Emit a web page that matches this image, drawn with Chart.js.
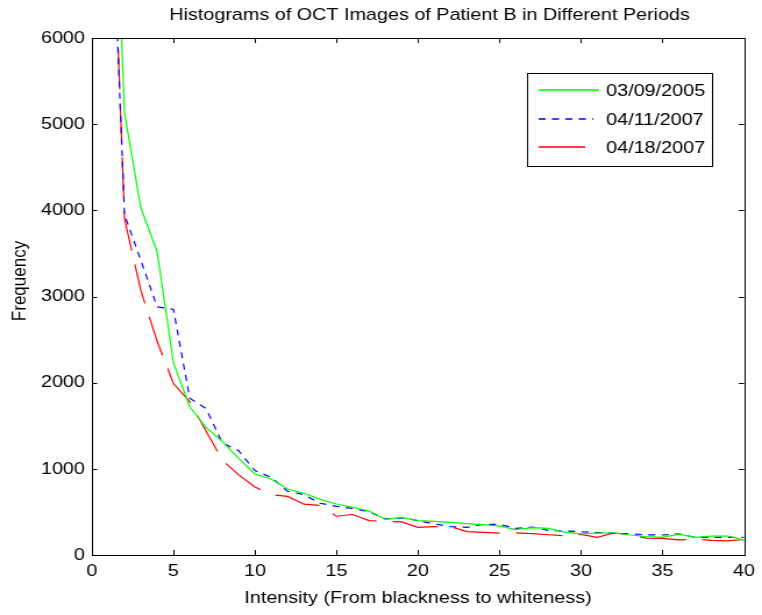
<!DOCTYPE html>
<html>
<head>
<meta charset="utf-8">
<script src="https://cdn.jsdelivr.net/npm/chart.js@4.4.1/dist/chart.umd.min.js"></script>
<style>
  html, body { margin: 0; padding: 0; background: #ffffff; overflow: hidden; }
  #wrap { width: 762px; height: 615px; }
  /* the reference figure is horizontally stretched; reproduce that by stretching the canvas */
  #c { width: 762px !important; height: 615px !important; display: block; }
</style>
</head>
<body>
<div id="wrap"><canvas id="c" width="655" height="615"></canvas></div>
<script>
// ---- data ----
const chartTitle = "Histograms of OCT Images of Patient B in Different Periods";
const xAxisTitle = "Intensity (From blackness to whiteness)";
const yAxisTitle = "Frequency";
const seriesLabels = ["03/09/2005", "04/11/2007", "04/18/2007"];
const seriesColors = ["#00ff00", "#0000ff", "#ff0000"];

const intensity = [1, 2, 3, 4, 5, 6, 7, 8, 9, 10,
                   11, 12, 13, 14, 15, 16, 17, 18, 19, 20,
                   21, 22, 23, 24, 25, 26, 27, 28, 29, 30,
                   31, 32, 33, 34, 35, 36, 37, 38, 39, 40];

const freq2005 = [10000, 5130, 4030, 3520, 2230, 1720, 1480, 1315, 1122, 940,
                  882, 766, 716, 646, 592, 553, 510, 414, 437, 400,
                  390, 378, 365, 352, 335, 295, 318, 308, 265, 245,
                  255, 258, 232, 215, 205, 242, 205, 218, 220, 172];

const freq0411 = [8700, 3950, 3420, 2880, 2850, 1820, 1700, 1300, 1210, 980,
                  900, 740, 700, 600, 565, 540, 500, 420, 430, 400,
                  360, 330, 320, 355, 355, 310, 325, 285, 280, 270,
                  260, 250, 245, 235, 232, 244, 205, 205, 205, 205];

const freq0418 = [9000, 3900, 3070, 2480, 1990, 1780, 1440, 1100, 930, 790,
                  700, 680, 590, 575, 450, 470, 400, 390, 385, 320,
                  330, 330, 272, 262, 255, 258, 248, 235, 222, 240,
                  205, 255, 240, 195, 192, 175, 185, 170, 165, 180];

const xTicks = [0, 5, 10, 15, 20, 25, 30, 35, 40];
const yTicks = [0, 1000, 2000, 3000, 4000, 5000, 6000];

// ---- helpers ----
const FONT = "'Liberation Sans', Arial, Helvetica, sans-serif";
const toPoints = (ys) => intensity.map((x, i) => ({ x: x, y: ys[i] }));

const frameAndTicks = {
  id: 'frameAndTicks',
  afterDatasetsDraw(chart) {
    const { ctx, chartArea: a, scales } = chart;
    ctx.save();
    ctx.strokeStyle = '#000';
    ctx.lineWidth = 1;
    ctx.beginPath();
    xTicks.forEach(v => {
      const px = Math.round(scales.x.getPixelForValue(v)) + 0.5;
      ctx.moveTo(px, a.bottom); ctx.lineTo(px, a.bottom - 5);
      ctx.moveTo(px, a.top); ctx.lineTo(px, a.top + 5);
    });
    yTicks.forEach(v => {
      const py = Math.round(scales.y.getPixelForValue(v)) + 0.5;
      ctx.moveTo(a.left, py); ctx.lineTo(a.left + 4.5, py);
      ctx.moveTo(a.right, py); ctx.lineTo(a.right - 4.5, py);
    });
    ctx.stroke();
    ctx.strokeRect(Math.round(a.left) + 0.5, Math.round(a.top) + 0.5,
                   Math.round(a.right - a.left), Math.round(a.bottom - a.top));
    ctx.restore();
  },
  afterDraw(chart) {
    const { ctx, chartArea: a } = chart;
    ctx.save();
    ctx.fillStyle = '#000';
    ctx.font = '17px ' + FONT;
    ctx.textAlign = 'center';
    ctx.textBaseline = 'middle';
    // chart title, centred over the plot box
    ctx.fillText(chartTitle, (a.left + a.right) / 2 + 10, 15);
    // y axis title (slightly above the plot centre, as in the reference)
    ctx.translate(17.5, 281);
    ctx.rotate(-Math.PI / 2);
    ctx.fillText(yAxisTitle, 0, 0);
    ctx.restore();
  }
};

const boxLegend = {
  id: 'boxLegend',
  afterDatasetsDraw(chart) {
    const { ctx, chartArea: a } = chart;
    const bx = Math.round(a.right - 187), by = Math.round(a.top + 35), bw = 159, bh = 93;
    ctx.save();
    ctx.fillStyle = '#fff';
    ctx.fillRect(bx, by, bw, bh);
    ctx.strokeStyle = '#000';
    ctx.lineWidth = 1;
    ctx.strokeRect(bx + 0.5, by + 0.5, bw, bh);
    const lens = [52, 47, 40];
    const dashes = [[], [6, 5.5], [40, 14]];
    seriesLabels.forEach((label, i) => {
      const y = Math.round(by + 17 + i * 28.5);
      ctx.save();
      ctx.beginPath();
      ctx.setLineDash(dashes[i]);
      ctx.strokeStyle = seriesColors[i];
      ctx.lineWidth = 1.6;
      ctx.moveTo(bx + 10, y);
      ctx.lineTo(bx + 10 + lens[i], y);
      ctx.stroke();
      ctx.restore();
      ctx.fillStyle = '#000';
      ctx.font = '17px ' + FONT;
      ctx.textBaseline = 'middle';
      ctx.textAlign = 'left';
      ctx.fillText(label, bx + 68, y + 1);
    });
    ctx.restore();
  }
};

new Chart(document.getElementById('c'), {
  type: 'line',
  data: {
    datasets: [
      { label: seriesLabels[0], data: toPoints(freq2005), borderColor: seriesColors[0],
        borderWidth: 1.2, pointRadius: 0, fill: false, tension: 0 },
      { label: seriesLabels[1], data: toPoints(freq0411), borderColor: seriesColors[1],
        borderWidth: 1.2, borderDash: [6, 5.5], pointRadius: 0, fill: false, tension: 0 },
      { label: seriesLabels[2], data: toPoints(freq0418), borderColor: seriesColors[2],
        borderWidth: 1.2, borderDash: [40, 14], pointRadius: 0, fill: false, tension: 0 }
    ]
  },
  options: {
    responsive: false,
    maintainAspectRatio: false,
    animation: false,
    devicePixelRatio: 1,
    layout: { padding: { left: 0, right: 11, top: 38, bottom: 0 } },
    plugins: {
      legend: { display: false },
      tooltip: { enabled: false },
      title: { display: false }
    },
    scales: {
      x: {
        type: 'linear', min: 0, max: 40,
        afterFit: (s) => { s.height = 60; },
        afterBuildTicks: (s) => { s.ticks = xTicks.map(v => ({ value: v })); },
        grid: { display: false, drawTicks: false },
        border: { display: false },
        ticks: { color: '#000', font: { family: FONT, size: 17 }, padding: 6,
                 maxRotation: 0, callback: (v) => String(v) },
        title: { display: true, text: xAxisTitle, color: '#000',
                 font: { family: FONT, size: 17 }, padding: { top: 0, bottom: 6 } }
      },
      y: {
        type: 'linear', min: 0, max: 6000,
        afterFit: (s) => { s.width = 79; },
        afterBuildTicks: (s) => { s.ticks = yTicks.map(v => ({ value: v })); },
        grid: { display: false, drawTicks: false },
        border: { display: false },
        ticks: { color: '#000', font: { family: FONT, size: 17 }, padding: 6,
                 callback: (v) => String(v) },
        title: { display: false }
      }
    }
  },
  plugins: [frameAndTicks, boxLegend]
});
</script>
</body>
</html>
